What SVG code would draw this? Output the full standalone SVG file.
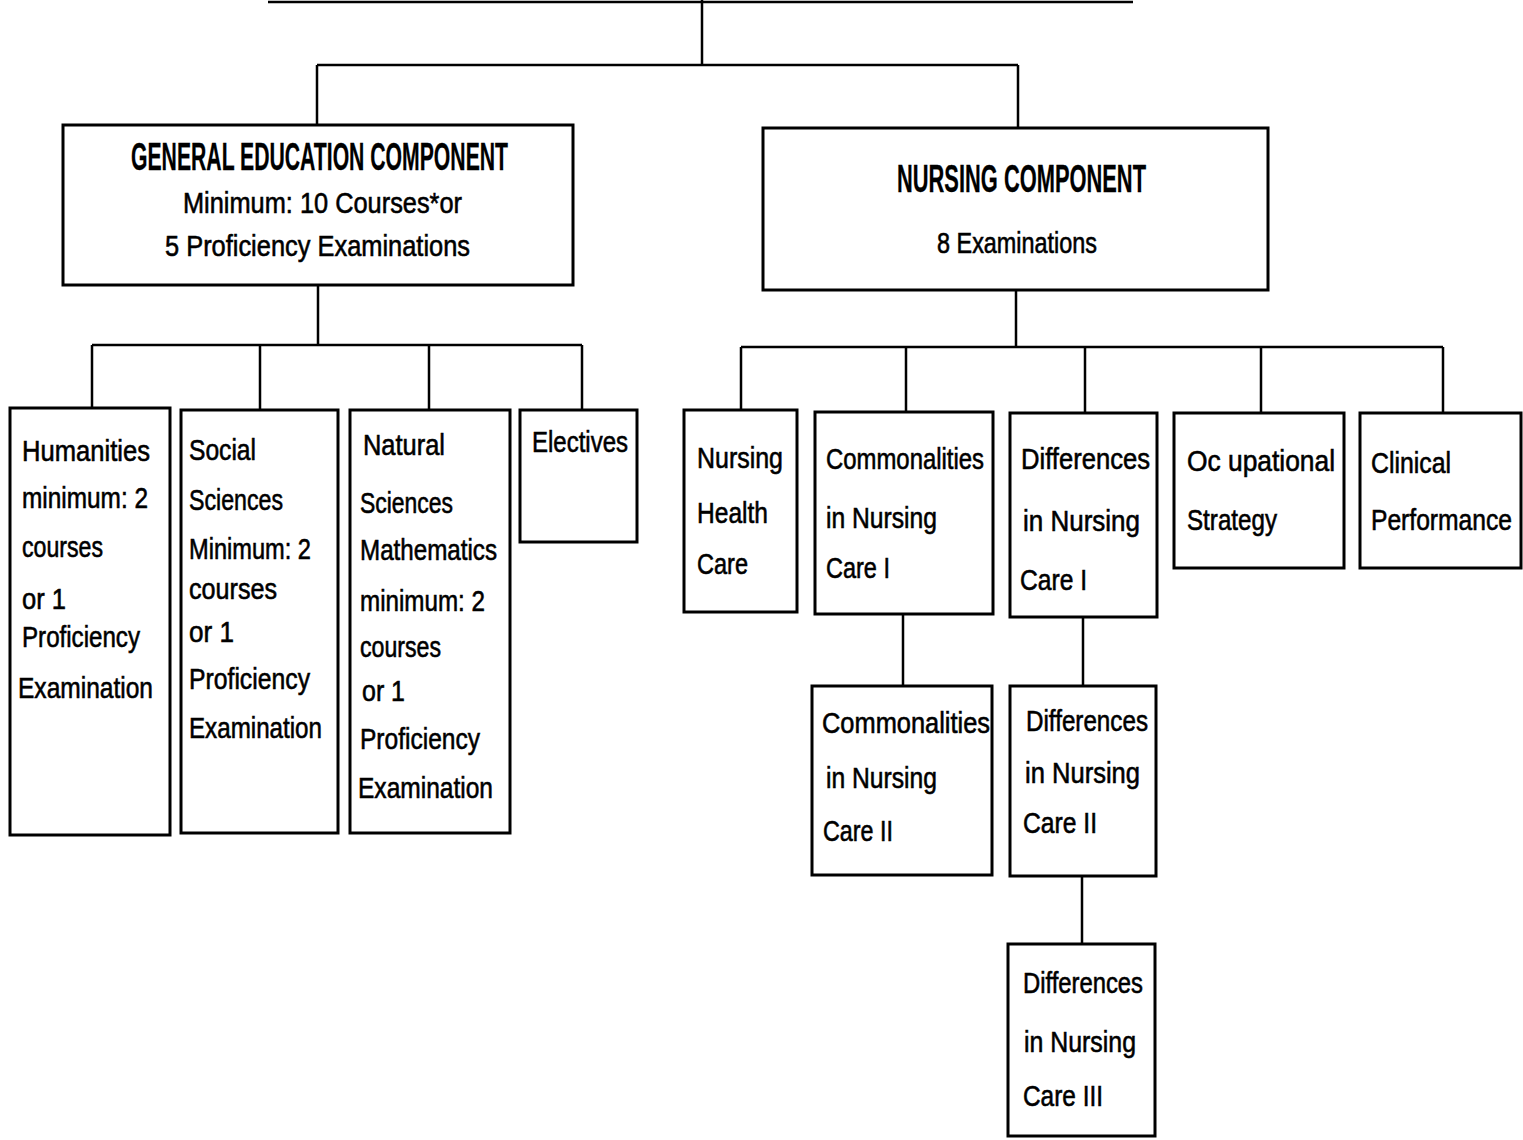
<svg xmlns="http://www.w3.org/2000/svg" width="1523" height="1140" viewBox="0 0 1523 1140">
<style>
.box{fill:#fff;stroke:#000;stroke-width:3}
.ln{fill:none;stroke:#000;stroke-width:2.5}
text{font-family:"Liberation Sans","DejaVu Sans",sans-serif;fill:#000;stroke:#000;stroke-width:0.6;font-size:30px}
.h{font-weight:bold;font-size:38px;stroke-width:0.3}
</style>
<g id="connectors">
<path class="ln" d="M268 2 H1133"/>
<path class="ln" d="M702 0 V65 M317 65 H1018 M317 65 V125 M1018 65 V128"/>
<path class="ln" d="M318 285 V345 M92 345 H582 M92 345 V408 M260 345 V410 M429 345 V410 M582 345 V410"/>
<path class="ln" d="M1016 290 V347 M741 347 H1443 M741 347 V410 M906 347 V412 M1085 347 V413 M1261 347 V413 M1443 347 V413"/>
<path class="ln" d="M903 614 V686 M1083 617 V686 M1082 876 V944"/>
</g>
<g id="general-education">
<rect class="box" x="63" y="125" width="510" height="160"/>
<text class="h" x="131" y="170" textLength="377" lengthAdjust="spacingAndGlyphs">GENERAL EDUCATION COMPONENT</text>
<text x="183" y="213" textLength="279" lengthAdjust="spacingAndGlyphs">Minimum:  10 Courses*or</text>
<text x="165" y="256" textLength="305" lengthAdjust="spacingAndGlyphs">5 Proficiency Examinations</text>
</g>
<g id="nursing-component">
<rect class="box" x="763" y="128" width="505" height="162"/>
<text class="h" x="897" y="192" textLength="249" lengthAdjust="spacingAndGlyphs">NURSING COMPONENT</text>
<text x="937" y="253" textLength="160" lengthAdjust="spacingAndGlyphs">8 Examinations</text>
</g>
<g id="humanities">
<rect class="box" x="10" y="408" width="160" height="427"/>
<text x="22" y="461" textLength="128" lengthAdjust="spacingAndGlyphs">Humanities</text>
<text x="22" y="508" textLength="126" lengthAdjust="spacingAndGlyphs">minimum: 2</text>
<text x="22" y="557" textLength="81" lengthAdjust="spacingAndGlyphs">courses</text>
<text x="22" y="609" textLength="44" lengthAdjust="spacingAndGlyphs">or 1</text>
<text x="22" y="647" textLength="118" lengthAdjust="spacingAndGlyphs">Proficiency</text>
<text x="18" y="698" textLength="135" lengthAdjust="spacingAndGlyphs">Examination</text>
</g>
<g id="social-sciences">
<rect class="box" x="181" y="410" width="157" height="423"/>
<text x="189" y="460" textLength="67" lengthAdjust="spacingAndGlyphs">Social</text>
<text x="189" y="510" textLength="94" lengthAdjust="spacingAndGlyphs">Sciences</text>
<text x="189" y="559" textLength="122" lengthAdjust="spacingAndGlyphs">Minimum: 2</text>
<text x="189" y="599" textLength="88" lengthAdjust="spacingAndGlyphs">courses</text>
<text x="189" y="642" textLength="45" lengthAdjust="spacingAndGlyphs">or 1</text>
<text x="189" y="689" textLength="121" lengthAdjust="spacingAndGlyphs">Proficiency</text>
<text x="189" y="738" textLength="133" lengthAdjust="spacingAndGlyphs">Examination</text>
</g>
<g id="natural-sciences">
<rect class="box" x="350" y="410" width="160" height="423"/>
<text x="363" y="455" textLength="82" lengthAdjust="spacingAndGlyphs">Natural</text>
<text x="360" y="513" textLength="93" lengthAdjust="spacingAndGlyphs">Sciences</text>
<text x="360" y="560" textLength="137" lengthAdjust="spacingAndGlyphs">Mathematics</text>
<text x="360" y="611" textLength="125" lengthAdjust="spacingAndGlyphs">minimum: 2</text>
<text x="360" y="657" textLength="81" lengthAdjust="spacingAndGlyphs">courses</text>
<text x="362" y="701" textLength="43" lengthAdjust="spacingAndGlyphs">or 1</text>
<text x="360" y="749" textLength="120" lengthAdjust="spacingAndGlyphs">Proficiency</text>
<text x="358" y="798" textLength="135" lengthAdjust="spacingAndGlyphs">Examination</text>
</g>
<g id="electives">
<rect class="box" x="520" y="410" width="117" height="132"/>
<text x="532" y="452" textLength="96" lengthAdjust="spacingAndGlyphs">Electives</text>
</g>
<g id="nursing-health-care">
<rect class="box" x="684" y="410" width="113" height="202"/>
<text x="697" y="468" textLength="86" lengthAdjust="spacingAndGlyphs">Nursing</text>
<text x="697" y="523" textLength="71" lengthAdjust="spacingAndGlyphs">Health</text>
<text x="697" y="574" textLength="51" lengthAdjust="spacingAndGlyphs">Care</text>
</g>
<g id="commonalities-1">
<rect class="box" x="815" y="412" width="178" height="202"/>
<text x="826" y="469" textLength="158" lengthAdjust="spacingAndGlyphs">Commonalities</text>
<text x="826" y="528" textLength="111" lengthAdjust="spacingAndGlyphs">in Nursing</text>
<text x="826" y="578" textLength="64" lengthAdjust="spacingAndGlyphs">Care I</text>
</g>
<g id="differences-1">
<rect class="box" x="1010" y="413" width="147" height="204"/>
<text x="1021" y="469" textLength="129" lengthAdjust="spacingAndGlyphs">Differences</text>
<text x="1023" y="531" textLength="117" lengthAdjust="spacingAndGlyphs">in Nursing</text>
<text x="1020" y="590" textLength="67" lengthAdjust="spacingAndGlyphs">Care I</text>
</g>
<g id="occupational-strategy">
<rect class="box" x="1174" y="413" width="170" height="155"/>
<text x="1187" y="471" textLength="148" lengthAdjust="spacingAndGlyphs">Oc upational</text>
<text x="1187" y="530" textLength="90" lengthAdjust="spacingAndGlyphs">Strategy</text>
</g>
<g id="clinical-performance">
<rect class="box" x="1360" y="413" width="161" height="155"/>
<text x="1371" y="473" textLength="80" lengthAdjust="spacingAndGlyphs">Clinical</text>
<text x="1371" y="530" font-size="25" textLength="141" lengthAdjust="spacingAndGlyphs">Performance</text>
</g>
<g id="commonalities-2">
<rect class="box" x="812" y="686" width="180" height="189"/>
<text x="822" y="733" textLength="168" lengthAdjust="spacingAndGlyphs">Commonalities</text>
<text x="826" y="788" textLength="111" lengthAdjust="spacingAndGlyphs">in Nursing</text>
<text x="823" y="841" textLength="70" lengthAdjust="spacingAndGlyphs">Care II</text>
</g>
<g id="differences-2">
<rect class="box" x="1010" y="686" width="146" height="190"/>
<text x="1026" y="731" textLength="122" lengthAdjust="spacingAndGlyphs">Differences</text>
<text x="1025" y="783" textLength="115" lengthAdjust="spacingAndGlyphs">in Nursing</text>
<text x="1023" y="833" textLength="74" lengthAdjust="spacingAndGlyphs">Care II</text>
</g>
<g id="differences-3">
<rect class="box" x="1008" y="944" width="147" height="192"/>
<text x="1023" y="993" textLength="120" lengthAdjust="spacingAndGlyphs">Differences</text>
<text x="1024" y="1052" textLength="112" lengthAdjust="spacingAndGlyphs">in Nursing</text>
<text x="1023" y="1106" textLength="80" lengthAdjust="spacingAndGlyphs">Care III</text>
</g>
</svg>
